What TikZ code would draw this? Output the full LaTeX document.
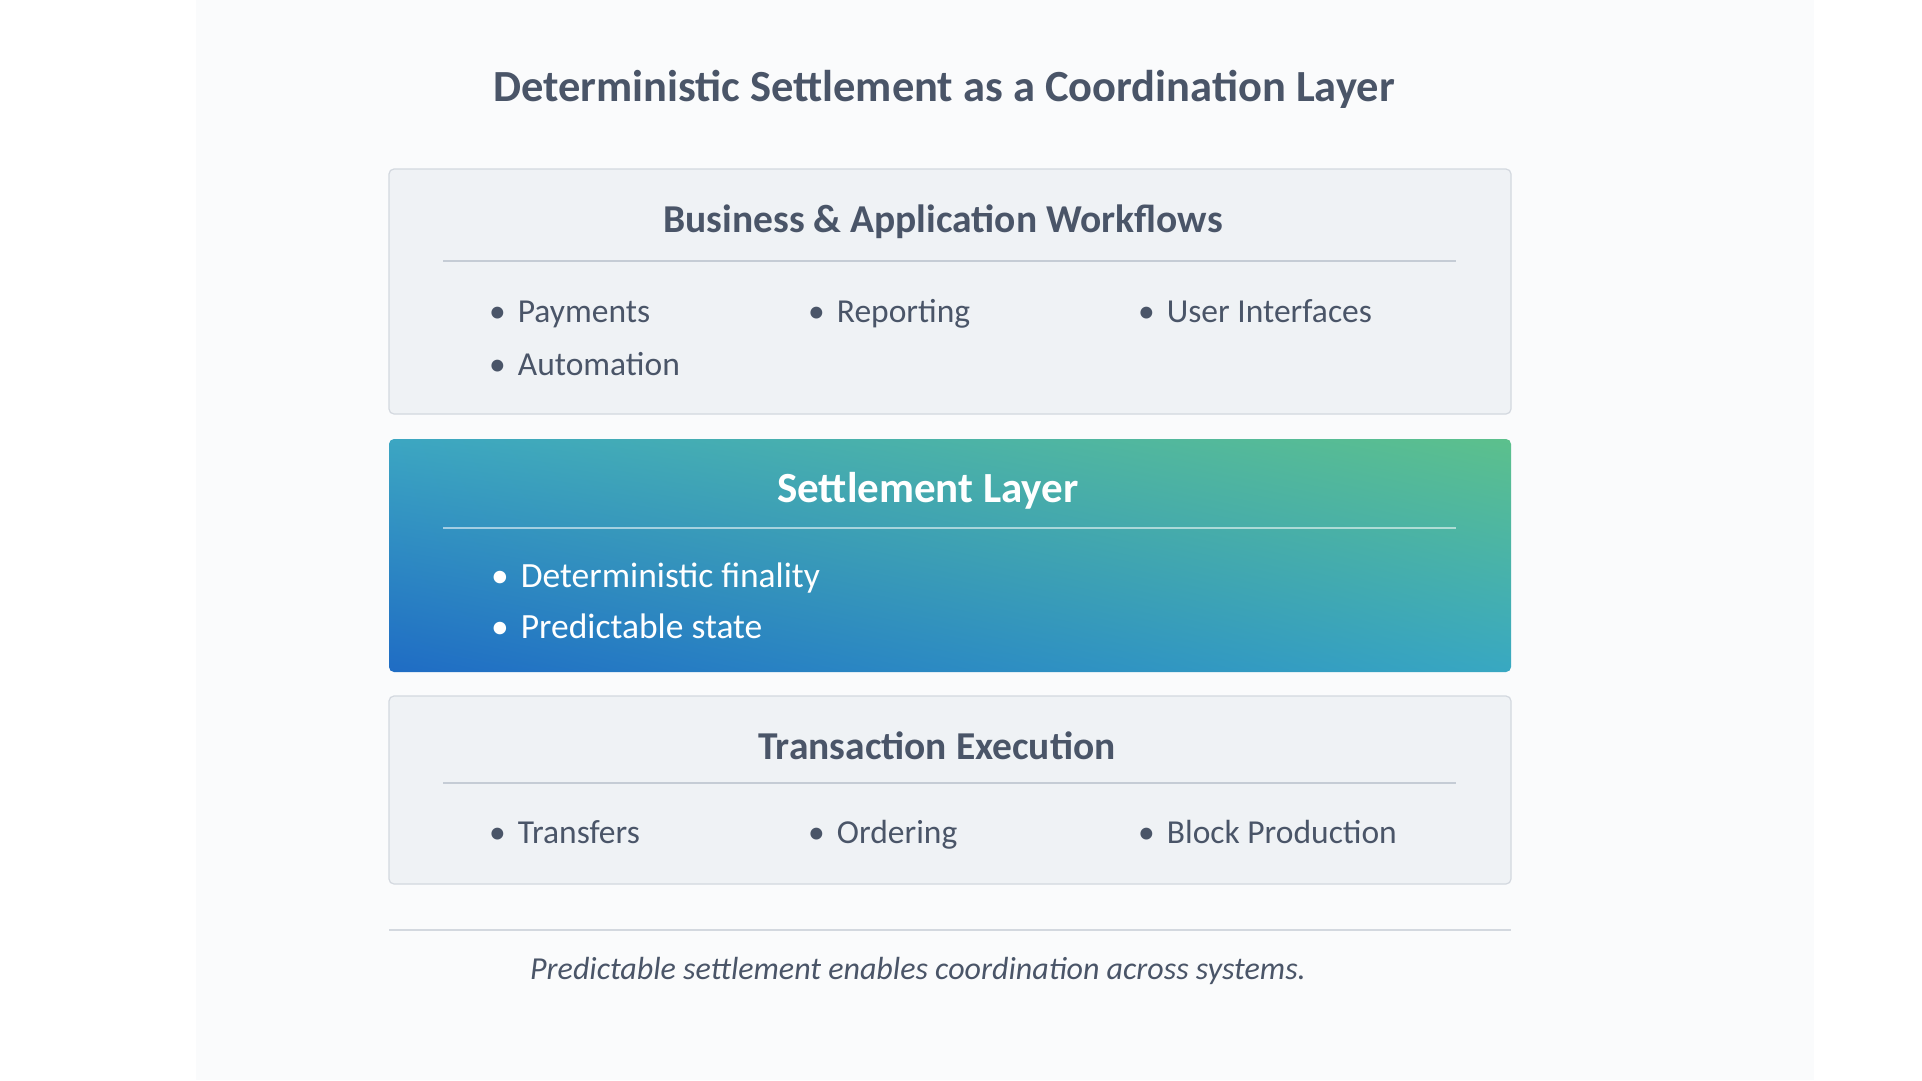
\documentclass[tikz,border=0pt]{standalone}
\usepackage{fontspec}
\usetikzlibrary{shadings}
\setmainfont{Carlito}
\definecolor{ink}{HTML}{4A5568}
\definecolor{boxfill}{HTML}{EFF2F5}
\definecolor{boxline}{HTML}{D3D8DF}
\definecolor{sepline}{HTML}{C5CCD5}
\definecolor{panel}{HTML}{FAFBFC}
\definecolor{gBL}{HTML}{1F6CC4}
\definecolor{gTL}{HTML}{3CA6C2}
\definecolor{gTR}{HTML}{5CC08C}
\definecolor{gBR}{HTML}{38A8C2}
\begin{document}
\begin{tikzpicture}[x=1pt,y=-1pt,
  layerbox/.style={draw=boxline, line width=1.2pt, fill=boxfill, rounded corners=5pt, minimum width=1122pt, inner sep=0pt},
  hdr/.style={font=\fontsize{39.5}{44}\selectfont\bfseries, text=ink, inner sep=0pt, anchor=base},
  item/.style={font=\fontsize{33.5}{38}\selectfont, text=ink, anchor=base west, inner sep=0pt},
  witem/.style={font=\fontsize{35.5}{40}\selectfont, text=white, anchor=base west, inner sep=0pt},
  sep/.style={draw=sepline, line width=1.5pt}]
\useasboundingbox (0,0) rectangle (1922,1080);
\fill[white] (0,0) rectangle (1922,1080);
\fill[panel] (196,0) rectangle (1814,1080);

\node[font=\fontsize{44.5}{50}\selectfont\bfseries, text=ink, inner sep=0pt, anchor=base] (title) at (944,101) {Deterministic Settlement as a Coordination Layer};

% top layer
\node[layerbox, minimum height=245pt] (top) at (950,291.5) {};
\node[hdr] (toph) at (943,232) {Business \& Application Workflows};
\coordinate (ts1) at (443,261); \coordinate (ts2) at (1456,261);
\draw[sep] (ts1) -- (ts2);
\node[item] (pay) at (489,322) {•\hspace{12pt}Payments};
\node[item] (rep) at (808,322) {•\hspace{12pt}Reporting};
\node[item] (ui) at (1138,322) {•\hspace{12pt}User Interfaces};
\node[item] (aut) at (489,375) {•\hspace{12pt}Automation};

% settlement layer
\shade[rounded corners=5pt, upper left=gTL, upper right=gTR, lower left=gBL, lower right=gBR] (389,439) rectangle (1511,672);
\node[minimum width=1122pt, minimum height=233pt, inner sep=0pt] (mid) at (950,555.5) {};
\node[font=\fontsize{43}{48}\selectfont\bfseries, text=white, inner sep=0pt, anchor=base] (midh) at (928,502) {Settlement Layer};
\coordinate (ms1) at (443,528); \coordinate (ms2) at (1456,528);
\draw[draw=white, opacity=0.55, line width=1.5pt] (ms1) -- (ms2);
\node[witem] (fin) at (491,587) {•\hspace{12pt}Deterministic finality};
\node[witem] (pst) at (491,638) {•\hspace{12pt}Predictable state};

% execution layer
\node[layerbox, minimum height=188pt] (bot) at (950,790) {};
\node[hdr] (both) at (937,759) {Transaction Execution};
\coordinate (bs1) at (443,783); \coordinate (bs2) at (1456,783);
\draw[sep] (bs1) -- (bs2);
\node[item] (tra) at (489,843) {•\hspace{12pt}Transfers};
\node[item] (ord) at (808,843) {•\hspace{12pt}Ordering};
\node[item] (blk) at (1138,843) {•\hspace{12pt}Block Production};

% footer
\coordinate (f1) at (389,930); \coordinate (f2) at (1511,930);
\draw[draw=boxline, line width=1.5pt] (f1) -- (f2);
\node[font=\fontsize{32}{36}\selectfont\itshape, text=ink, inner sep=0pt, anchor=base] (cap) at (918,979) {Predictable settlement enables coordination across systems.};
\end{tikzpicture}
\end{document}
